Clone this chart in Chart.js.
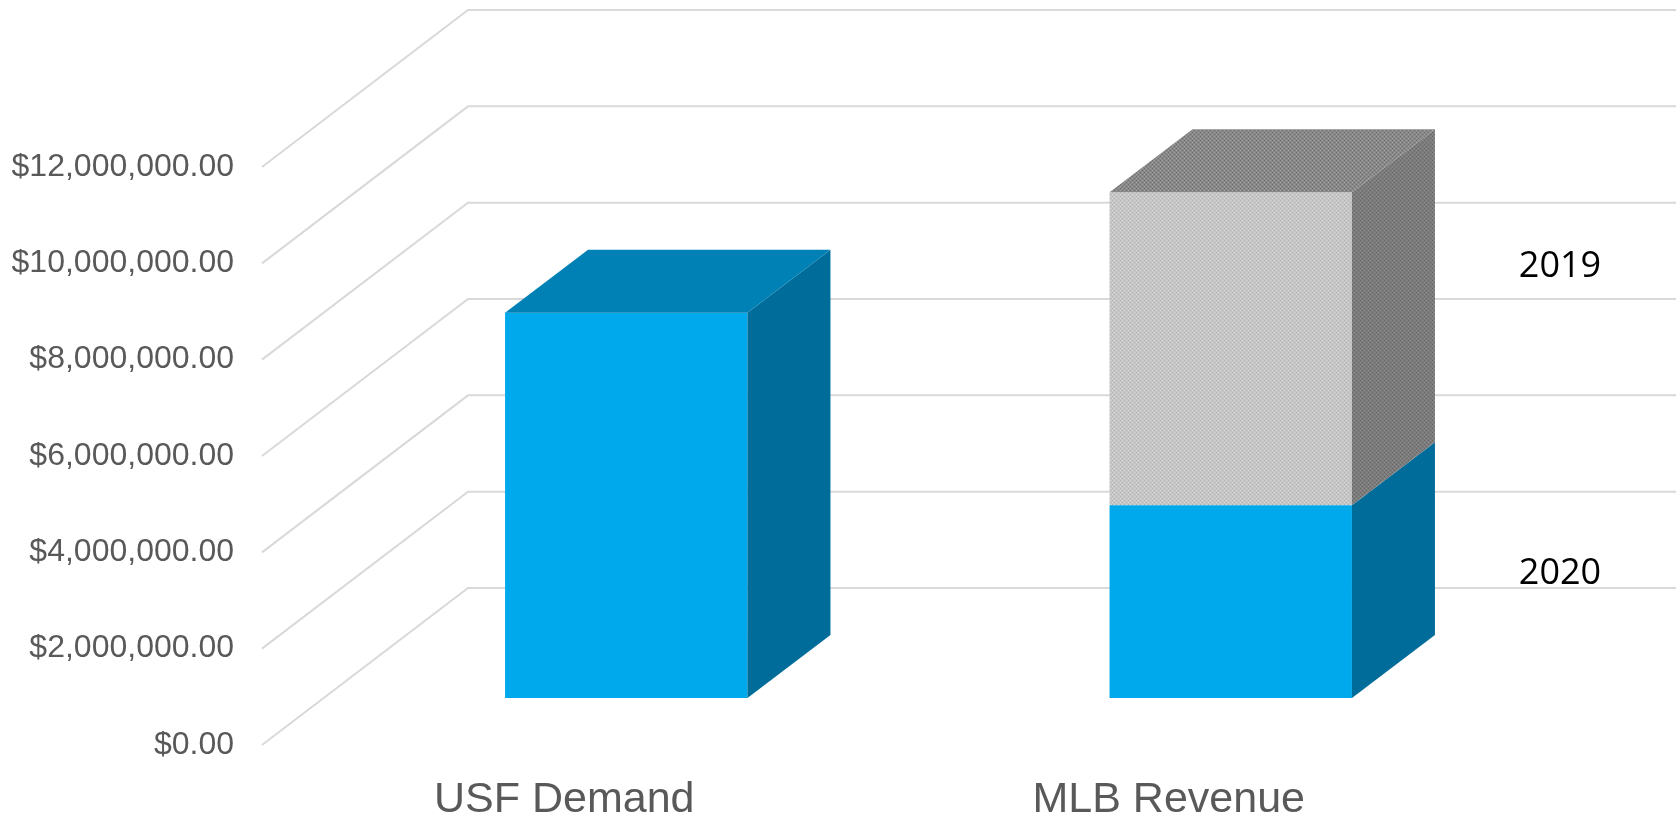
<!DOCTYPE html>
<html>
<head>
<meta charset="utf-8">
<script src="https://cdn.jsdelivr.net/npm/chart.js@4"></script>
<style>
  body { margin: 0; background: #fff; }
  #wrap { width: 1676px; height: 816px; position: relative; }
</style>
</head>
<body>
<div id="wrap"><canvas id="myChart"></canvas></div>
<script>
// datos del grafico
const categories = ['USF Demand', 'MLB Revenue'];
const seriesNames = ['2020', '2019'];
const values2020 = [8000000, 4000000];
const values2019 = [null, 6500000];
const yTicks = [0, 2000000, 4000000, 6000000, 8000000, 10000000, 12000000];

// geometria del efecto 3D (px, relativo al plano frontal de las barras)
const DX = 83, DY = -63;          // profundidad de la barra
const FRONT_X = -62, FRONT_Y = 47; // plano del eje
const BACK_X = 144, BACK_Y = -110; // pared del fondo

function pattern(base, dark, light) {
  const c = document.createElement('canvas');
  c.width = 4; c.height = 4;
  const g = c.getContext('2d');
  g.fillStyle = base; g.fillRect(0, 0, 4, 4);
  g.fillStyle = dark; g.fillRect(0, 0, 1, 1); g.fillRect(2, 2, 1, 1);
  g.fillStyle = light; g.fillRect(2, 0, 1, 1); g.fillRect(0, 2, 1, 1);
  return g.createPattern(c, 'repeat');
}

const ctx = document.getElementById('myChart');
const grayFront = pattern('#c6c6c6', '#b0b0b0', '#d8d8d8');
const graySide = pattern('#7c7c7c', '#666666', '#8e8e8e');
const grayTop = pattern('#888888', '#6e6e6e', '#a0a0a0');

const wall3d = {
  id: 'wall3d',
  beforeDatasetsDraw(chart) {
    const { ctx, chartArea, scales: { y } } = chart;
    ctx.save();
    ctx.strokeStyle = '#d9d9d9';
    ctx.lineWidth = 2;
    yTicks.forEach(v => {
      const py = y.getPixelForValue(v);
      ctx.beginPath();
      ctx.moveTo(chartArea.left + FRONT_X, py + FRONT_Y);
      ctx.lineTo(chartArea.left + BACK_X, py + BACK_Y);
      ctx.lineTo(chart.width, py + BACK_Y);
      ctx.stroke();
    });
    ctx.restore();
  },
  afterDatasetsDraw(chart) {
    const { ctx } = chart;
    const sets = chart.data.datasets;
    const poly = (pts, fill) => {
      ctx.beginPath();
      ctx.moveTo(pts[0][0], pts[0][1]);
      pts.slice(1).forEach(p => ctx.lineTo(p[0], p[1]));
      ctx.closePath();
      ctx.fillStyle = fill;
      ctx.fill();
    };
    ctx.save();
    sets.forEach((ds, i) => {
      chart.getDatasetMeta(i).data.forEach((bar, j) => {
        if (ds.data[j] == null) return;
        const { x, y, base, width } = bar.getProps(['x', 'y', 'base', 'width'], true);
        const l = x - width / 2, r = x + width / 2;
        poly([[r, y], [r + DX, y + DY], [r + DX, base + DY], [r, base]], ds.sideColor);
        const topmost = !sets.slice(i + 1).some(d => d.data[j] != null);
        if (topmost) poly([[l, y], [l + DX, y + DY], [r + DX, y + DY], [r, y]], ds.topColor);
      });
    });
    // leyenda
    ctx.fillStyle = '#000';
    ctx.font = '36px "Open Sans"';
    ctx.textAlign = 'center';
    ctx.textBaseline = 'middle';
    ctx.fillText(seriesNames[1], 1560, 267);
    ctx.fillText(seriesNames[0], 1560, 574);
    ctx.restore();
  }
};

new Chart(ctx, {
  type: 'bar',
  data: {
    labels: categories,
    datasets: [{
      label: seriesNames[0],
      data: values2020,
      backgroundColor: '#00a9ec',
      sideColor: '#006c9a',
      topColor: '#0081b5',
      borderWidth: 0
    }, {
      label: seriesNames[1],
      data: values2019,
      backgroundColor: grayFront,
      sideColor: graySide,
      topColor: grayTop,
      borderWidth: 0
    }]
  },
  options: {
    responsive: true,
    maintainAspectRatio: false,
    animation: false,
    barPercentage: 0.401,
    categoryPercentage: 1,
    layout: { padding: { top: 120, right: 143, bottom: 0, left: 0 } },
    plugins: { legend: { display: false }, tooltip: { enabled: false } },
    scales: {
      x: {
        stacked: true,
        afterFit: (scale) => { scale.height = 118; },
        grid: { display: false, drawTicks: false },
        border: { display: false },
        ticks: {
          color: '#595959',
          font: { family: '"Liberation Sans", Arial', size: 43 },
          padding: 76,
          labelOffset: FRONT_X
        }
      },
      y: {
        stacked: true,
        min: 0,
        max: 12000000,
        afterFit: (scale) => { scale.width = 324; },
        afterBuildTicks: (scale) => { scale.ticks = yTicks.map(v => ({ value: v })); },
        grid: { display: false, drawTicks: false },
        border: { display: false },
        ticks: {
          color: '#595959',
          font: { family: '"Liberation Sans", Arial', size: 32 },
          padding: 90,
          labelOffset: FRONT_Y,
          callback: (v) => '$' + Number(v).toLocaleString('en-US', { minimumFractionDigits: 2, maximumFractionDigits: 2 })
        }
      }
    }
  },
  plugins: [wall3d]
});
</script>
</body>
</html>
